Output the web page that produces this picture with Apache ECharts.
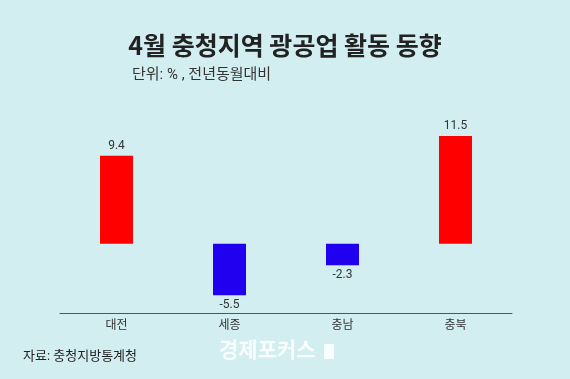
<!DOCTYPE html>
<html><head><meta charset="utf-8">
<script src="https://cdn.jsdelivr.net/npm/echarts@6/dist/echarts.min.js"></script>
<style>html,body{margin:0;padding:0;background:#d2eef0;}#c{width:570px;height:379px;}</style>
</head><body><div id="c"></div>
<script>
const categories = ['대전', '세종', '충남', '충북'];
const values = [9.4, -5.5, -2.3, 11.5];
const titleText = '4월 충청지역 광공업 활동 동향';
const subtitleText = '단위: % , 전년동월대비';
const sourceText = '자료: 충청지방통계청';
const watermarkText = '경제포커스';

const FONT = 'Roboto, "Noto Sans CJK KR", sans-serif';
const chart = echarts.init(document.getElementById('c'));
chart.setOption({
  backgroundColor: '#d2eef0',
  textStyle: { fontFamily: FONT },
  title: [
    { text: titleText, left: 'center', top: 28, textStyle: { fontFamily: '"Noto Sans CJK KR"', fontSize: 25, fontWeight: 'bold', color: '#222' } },
    { text: subtitleText, left: 127, top: 63, textStyle: { fontFamily: FONT, fontSize: 15, fontWeight: 'normal', color: '#333' } },
    { text: sourceText, left: 18, top: 345, textStyle: { fontFamily: FONT, fontSize: 13, fontWeight: 'normal', color: '#222' } }
  ],
  graphic: [
    { type: 'text', left: 219, top: 339, style: { text: watermarkText, font: 'bold 21px "Noto Sans CJK KR"', fill: 'rgba(255,255,255,0.85)' } },
    { type: 'rect', left: 324, top: 344, shape: { width: 10, height: 15 }, style: { fill: 'rgba(255,255,255,0.85)' } }
  ],
  grid: { left: 60, right: 58, top: 129.4, height: 183.6 },
  xAxis: {
    type: 'category', data: categories,
    axisLine: { onZero: false, lineStyle: { color: '#555', width: 1 } },
    axisTick: { show: false },
    axisLabel: { color: '#333', fontSize: 12, margin: 7, fontFamily: FONT }
  },
  yAxis: {
    type: 'value', min: -7.4, max: 12.2, show: false,
    splitLine: { show: false }
  },
  series: [{
    type: 'bar', barWidth: 33,
    data: values.map(v => v < 0 ? { value: v, label: { position: 'bottom' } } : v),
    itemStyle: { color: p => p.value >= 0 ? '#ff0000' : '#2000ee' },
    label: {
      show: true, position: 'top', color: '#333', fontSize: 12, distance: 4, fontFamily: FONT,
      formatter: p => String(p.value)
    }
  }]
});
</script></body></html>
